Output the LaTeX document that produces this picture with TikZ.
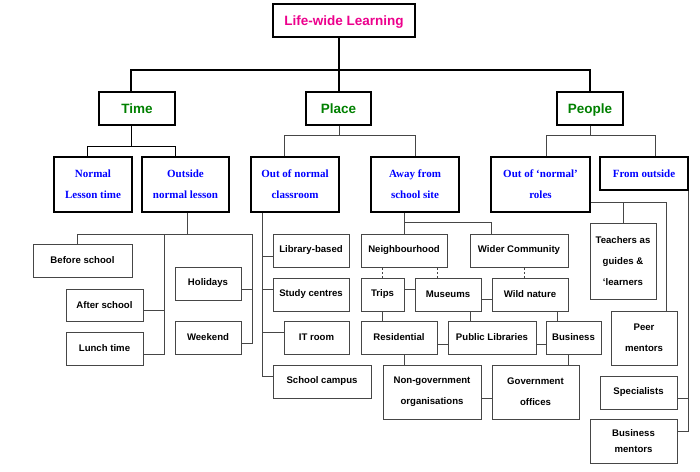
\documentclass[tikz,border=0pt]{standalone}
\usepackage{fontspec}
\setmainfont{Liberation Serif}
\setsansfont{Liberation Sans}
\definecolor{leafgreen}{RGB}{0,128,0}
\definecolor{linegray}{RGB}{70,70,70}
\begin{document}
\begin{tikzpicture}[x=1pt, y=-1pt, line cap=butt, line join=miter,
  sz/.style 2 args={minimum width=#1pt, minimum height=#2pt},
  head/.style={draw, line width=1.4pt, inner sep=2pt, text depth=0pt, text=magenta, font=\sffamily\bfseries\fontsize{13.5}{16}\selectfont},
  topic/.style={draw, line width=1.4pt, inner sep=2pt, text depth=0pt, text=leafgreen, font=\sffamily\bfseries\fontsize{13.5}{16}\selectfont},
  sub/.style={draw, line width=1.3pt, inner sep=2pt, align=center, text=blue, font=\rmfamily\bfseries\fontsize{11}{21}\selectfont},
  leaf/.style={draw=linegray, line width=1pt, inner sep=2pt, align=center, font=\sffamily\bfseries\fontsize{9.6}{21}\selectfont},
  trunk/.style={line width=1.5pt},
  branch/.style={line width=1pt},
  link/.style={draw=linegray, line width=0.9pt},
  dots/.style={draw=linegray, line width=1pt, dash pattern=on 2pt off 2pt}]
\useasboundingbox (0,0) rectangle (700,471);
% top levels
\node[head, sz={142}{33}] (top) at (344,20.5) {Life-wide Learning};
\node[topic, sz={76}{33}] (time) at (137,108.5) {Time};
\node[topic, sz={65}{33}] (place) at (338.5,108.5) {Place};
\node[topic, sz={66}{33}] (people) at (590,108.5) {People};
\node[sub, sz={78}{55}] (normal) at (93,184.5) {Normal\\Lesson time};
\node[sub, sz={87}{55}] (outside) at (185.5,184.5) {Outside\\normal lesson};
\node[sub, sz={88}{55}] (classroom) at (295,184.5) {Out of normal\\classroom};
\node[sub, sz={88}{55}] (away) at (415,184.5) {Away from\\school site};
\node[sub, sz={99}{55}] (roles) at (540.5,184.5) {Out of ‘normal’\\roles};
\node[sub, sz={88}{33}] (fromout) at (644,173.5) {From outside};
% time
\node[leaf, sz={99}{33}] (before) at (82.5,260.5) {Before school};
\node[leaf, sz={77}{32}] (after) at (104.5,305) {After school};
\node[leaf, sz={77}{33}] (lunch) at (104.5,348.5) {Lunch time};
\node[leaf, sz={66}{33}] (holidays) at (208,283.5) {Holidays};
\node[leaf, sz={66}{33}] (weekend) at (208,337.5) {Weekend};
% place
\node[leaf, sz={76}{33}] (library) at (311,250.5) {Library-based};
\node[leaf, sz={76}{33}] (study) at (311,294.5) {Study centres};
\node[leaf, sz={65}{33}] (itroom) at (316.5,337.5) {IT room};
\node[leaf, sz={98}{33}] (campus) at (322,381.5) {School campus};
\node[leaf, sz={86}{33}] (neigh) at (404,250.5) {Neighbourhood};
\node[leaf, sz={98}{33}] (wider) at (519,250.5) {Wider Community};
\node[leaf, sz={43}{33}] (trips) at (382.5,294.5) {Trips};
\node[leaf, sz={66}{33}] (museums) at (448,294.5) {Museums};
\node[leaf, sz={76}{33}] (wild) at (530,294.5) {Wild nature};
\node[leaf, sz={76}{33}] (resid) at (399,337.5) {Residential};
\node[leaf, sz={88}{33}] (publib) at (492,337.5) {Public Libraries};
\node[leaf, sz={55}{33}] (business) at (573.5,337.5) {Business};
\node[leaf, sz={98}{54}] (ngo) at (432,392) {Non-government\\organisations};
\node[leaf, sz={87}{54}] (gov) at (535.5,392) {Government\\offices};
% people
\node[leaf, sz={66}{76}] (teachers) at (623,261) {Teachers as\\guides \&\\‘learners};
\node[leaf, sz={66}{54}] (peer) at (644,338) {Peer\\mentors};
\node[leaf, sz={77}{33}] (special) at (638.5,392.5) {Specialists};
\node[leaf, sz={87}{44}] (bizment) at (633.5,441) {Business\\[-4.3pt]mentors};

% trunk
\coordinate (hub) at (339,70);
\draw[trunk] (top.south -| hub) -- (hub);
\draw[trunk] ([xshift=-6pt]time.north) |- (hub) -| (people.north);
\draw[trunk] (hub) -- (hub |- place.north);
% second level
\draw[branch] ([xshift=-6pt]time.south) -- ++(0,21) coordinate (t1);
\draw[branch] ([xshift=-6pt]normal.north) |- (t1) -| ([xshift=-10.5pt]outside.north);
\draw[branch, draw=linegray] (hub |- place.south) -- ++(0,10) coordinate (p1);
\draw[branch, draw=linegray] ([xshift=-11pt]classroom.north) |- (p1) -| (away.north);
\draw[branch, draw=linegray] (people.south) -- ++(0,10) coordinate (q1);
\draw[branch, draw=linegray] ([xshift=5.5pt]roles.north) |- (q1) -| ([xshift=11pt]fromout.north);

% outside normal lesson
\coordinate (o2) at (164,234);
\coordinate (o3) at (252,234);
\draw[link] ([xshift=1.5pt]outside.south) -- ++(0,22);
\draw[link] ([xshift=-5.5pt]before.north) |- (o3);
\draw[link] ([yshift=-5pt]after.east) -| (o2);
\draw[link] ([yshift=-5.5pt]lunch.east) -| (o2);
\draw[link] ([yshift=-5.5pt]holidays.east) -| (o3);
\draw[link] ([yshift=-5.5pt]weekend.east) -| (o3);

% out of normal classroom
\coordinate (c1) at ([xshift=-33pt]classroom.south);
\foreach \n/\d in {library/-5.5, study/5.5, itroom/5.5, campus/5.5}
  \draw[link] ([yshift=\d pt]\n.west) -| (c1);

% away from school site
\draw[link] (neigh.north |- away.south) -- (neigh.north);
\draw[link] (neigh.north) ++(0,-11) -| ([xshift=-28pt]wider.north);
\coordinate (d1) at ([xshift=-11pt]museums.north);
\coordinate (d2) at ([xshift=-6pt]wild.north);
\draw[dots] (trips.north) -- (trips.north |- neigh.south);
\draw[dots] (d1) -- (d1 |- neigh.south);
\draw[dots] (d2) -- (d2 |- wider.south);
\draw[link] ([yshift=5.5pt]trips.east) -- ([yshift=5.5pt]museums.west);
\draw[link] ([yshift=-4.5pt]museums.east) -- ([yshift=-4.5pt]wild.west);
\draw[link] (trips.south) -- (trips.south |- resid.north);
\draw[link] ([xshift=22pt]museums.south) -- ([xshift=-22pt]publib.north);
\draw[link] ([xshift=27pt]wild.south) -- ([xshift=-16.5pt]business.north);
\draw[link] ([yshift=-6.5pt]resid.east) -- ([yshift=-6.5pt]publib.west);
\draw[link] ([yshift=-6.5pt]publib.east) -- ([yshift=-6.5pt]business.west);
\draw[link] ([xshift=5pt]resid.south) -- ([xshift=-28pt]ngo.north);
\draw[link] ([xshift=-5.5pt]business.south) -- ([xshift=32.5pt]gov.north);
\draw[link] ([yshift=-6pt]ngo.east) -- ([yshift=-6pt]gov.west);

% people
\draw[link] ([yshift=-17.5pt]roles.east) -| ([xshift=22pt]peer.north);
\draw[link] (teachers.north) -- ++(0,-21);
\draw[link] (fromout.south east) |- ([yshift=10pt]bizment.east);
\draw[link] ([yshift=-5.5pt]special.east) -| (fromout.south east);
\end{tikzpicture}
\end{document}
